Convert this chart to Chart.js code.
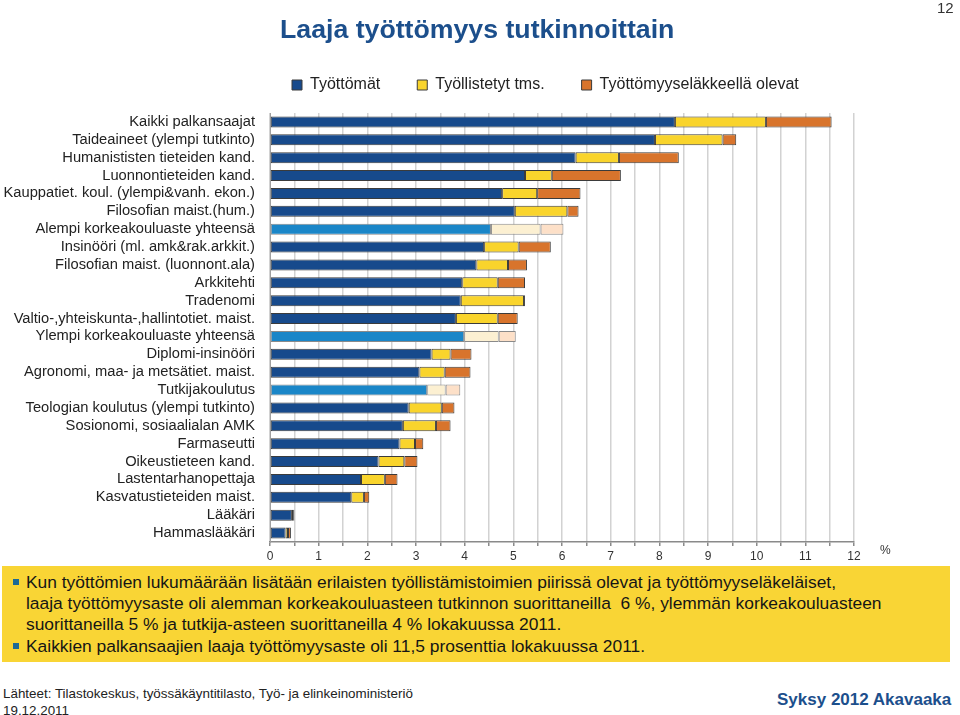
<!DOCTYPE html>
<html lang="fi">
<head>
<meta charset="utf-8">
<script src="https://cdn.jsdelivr.net/npm/chart.js@4"></script>
<style>
  html, body { margin: 0; padding: 0; background: #fff; }
  body { width: 960px; height: 715px; position: relative; overflow: hidden; font-family: "Liberation Sans", Arial, sans-serif; }
  #wrap { position: absolute; left: 0; top: 0; width: 960px; height: 575px; }
  .abs { position: absolute; white-space: nowrap; }
  #title { left: 280px; top: 14px; font-size: 26.7px; font-weight: bold; color: #1c4f8c; }
  #pageno { left: 937px; top: -1px; font-size: 15px; color: #333; }
  #pct { left: 880px; top: 543px; font-size: 12px; color: #333; }
  #box { left: 2px; top: 566px; width: 948px; height: 96px; background: #f9d535; }
  .line { position: absolute; left: 24px; font-size: 17.4px; color: #151515; }
  .bullet { position: absolute; left: 11px; width: 6px; height: 6px; background: #1d6a96; }
  #src { left: 3px; top: 685px; font-size: 13.4px; color: #222; line-height: 17px; }
  #brand { left: 777px; top: 690px; font-size: 17px; font-weight: bold; color: #1c4f8c; }
</style>
</head>
<body>
<div id="wrap"><canvas id="chart" width="960" height="575"></canvas></div>
<div id="title" class="abs">Laaja työttömyys tutkinnoittain</div>
<div id="pageno" class="abs">12</div>
<div id="pct" class="abs">%</div>
<div id="box" class="abs">
  <div class="bullet" style="top:13px"></div>
  <div class="line" style="top:6px">Kun työttömien lukumäärään lisätään erilaisten työllistämistoimien piirissä olevat ja työttömyyseläkeläiset,</div>
  <div class="line" style="top:27px">laaja työttömyysaste oli alemman korkeakouluasteen tutkinnon suorittaneilla&nbsp; 6 %, ylemmän korkeakouluasteen</div>
  <div class="line" style="top:48px">suorittaneilla 5 % ja tutkija-asteen suorittaneilla 4 % lokakuussa 2011.</div>
  <div class="bullet" style="top:77px"></div>
  <div class="line" style="top:70px">Kaikkien palkansaajien laaja työttömyysaste oli 11,5 prosenttia lokakuussa 2011.</div>
</div>
<div id="src" class="abs">Lähteet: Tilastokeskus, työssäkäyntitilasto, Työ- ja elinkeinoministeriö<br>19.12.2011</div>
<div id="brand" class="abs">Syksy 2012 Akavaaka</div>

<script>
const categories = [
  'Kaikki palkansaajat',
  'Taideaineet (ylempi tutkinto)',
  'Humanististen tieteiden kand.',
  'Luonnontieteiden kand.',
  'Kauppatiet. koul. (ylempi&vanh. ekon.)',
  'Filosofian maist.(hum.)',
  'Alempi korkeakouluaste yhteensä',
  'Insinööri (ml. amk&rak.arkkit.)',
  'Filosofian maist. (luonnont.ala)',
  'Arkkitehti',
  'Tradenomi',
  'Valtio-,yhteiskunta-,hallintotiet. maist.',
  'Ylempi korkeakouluaste yhteensä',
  'Diplomi-insinööri',
  'Agronomi, maa- ja metsätiet. maist.',
  'Tutkijakoulutus',
  'Teologian koulutus (ylempi tutkinto)',
  'Sosionomi, sosiaalialan AMK',
  'Farmaseutti',
  'Oikeustieteen kand.',
  'Lastentarhanopettaja',
  'Kasvatustieteiden maist.',
  'Lääkäri',
  'Hammaslääkäri'
];
const summaryRows = ['Alempi korkeakouluaste yhteensä', 'Ylempi korkeakouluaste yhteensä', 'Tutkijakoulutus'];

const seriesNames = ['Työttömät', 'Työllistetyt tms.', 'Työttömyyseläkkeellä olevat'];
const tyottomat   = [8.32, 7.91, 6.28, 5.24, 4.77, 5.03, 4.54, 4.40, 4.24, 3.95, 3.92, 3.82, 3.99, 3.32, 3.07, 3.23, 2.85, 2.73, 2.66, 2.23, 1.87, 1.67, 0.45, 0.32];
const tyollistetyt = [1.87, 1.39, 0.89, 0.55, 0.72, 1.08, 1.02, 0.71, 0.65, 0.73, 1.30, 0.86, 0.71, 0.39, 0.52, 0.38, 0.68, 0.68, 0.32, 0.53, 0.49, 0.26, 0.04, 0.05];
const elakkeella  = [1.35, 0.28, 1.23, 1.42, 0.89, 0.23, 0.47, 0.66, 0.39, 0.56, 0.02, 0.41, 0.35, 0.43, 0.53, 0.30, 0.26, 0.30, 0.17, 0.27, 0.26, 0.11, 0.01, 0.06];

const xMin = 0, xMax = 12, xStep = 0.5;

const palette = [
  { dark: '#174a8c', light: '#1a86c8' },
  { dark: '#f9d42c', light: '#fcf0d2' },
  { dark: '#d8742c', light: '#fde0c8' }
];

const isSummary = ctx => ctx.dataIndex !== undefined && summaryRows.includes(categories[ctx.dataIndex]);

const values = [tyottomat, tyollistetyt, elakkeella];
const datasets = values.map((v, i) => ({
  label: seriesNames[i],
  data: v,
  backgroundColor: ctx => isSummary(ctx) ? palette[i].light : palette[i].dark,
  borderColor: ctx => isSummary(ctx) ? '#8a8a8a' : '#3b3b3b',
  borderWidth: 1,
  borderSkipped: false,
  barPercentage: 0.62,
  categoryPercentage: 1.0
}));

const legendPlacer = {
  id: 'legendPlacer',
  afterLayout(chart) {
    const lg = chart.legend;
    if (!lg) return;
    const dx = 255 - lg.left;
    lg.left += dx; lg.right += dx;
    lg.top -= 10; lg.bottom -= 10;
  }
};

new Chart(document.getElementById('chart'), {
  type: 'bar',
  data: { labels: categories, datasets },
  plugins: [legendPlacer],
  options: {
    indexAxis: 'y',
    responsive: false,
    animation: false,
    layout: { padding: { top: 50, right: 106, left: 0, bottom: 0 } },
    plugins: {
      tooltip: { enabled: false },
      legend: {
        display: true,
        position: 'top',
        align: 'start',
        fullSize: false,
        labels: {
          boxWidth: 10,
          boxHeight: 10,
          padding: 37,
          color: '#222',
          font: { family: '"Liberation Sans", Arial, sans-serif', size: 16 }
        }
      }
    },
    scales: {
      x: {
        stacked: true,
        min: xMin,
        max: xMax,
        afterFit(scale) { scale.height = 33; },
        ticks: {
          stepSize: xStep,
          autoSkip: false,
          maxRotation: 0,
          padding: 3,
          color: '#333',
          font: { family: '"Liberation Sans", Arial, sans-serif', size: 12 },
          callback: v => (Number.isInteger(v) ? String(v) : '')
        },
        grid: { color: '#d2d2d2', lineWidth: 1.5, drawTicks: true, tickLength: 4, tickColor: '#8a8a8a' },
        border: { display: true, color: '#8a8a8a', width: 1.5 }
      },
      y: {
        stacked: true,
        afterFit(scale) { scale.width = 270; },
        ticks: {
          padding: 15,
          autoSkip: false,
          color: '#222',
          font: { family: '"Liberation Sans", Arial, sans-serif', size: 14.7 }
        },
        grid: { display: false, drawTicks: false },
        border: { display: true, color: '#a0a0a0', width: 1 }
      }
    }
  }
});
</script>
</body>
</html>
